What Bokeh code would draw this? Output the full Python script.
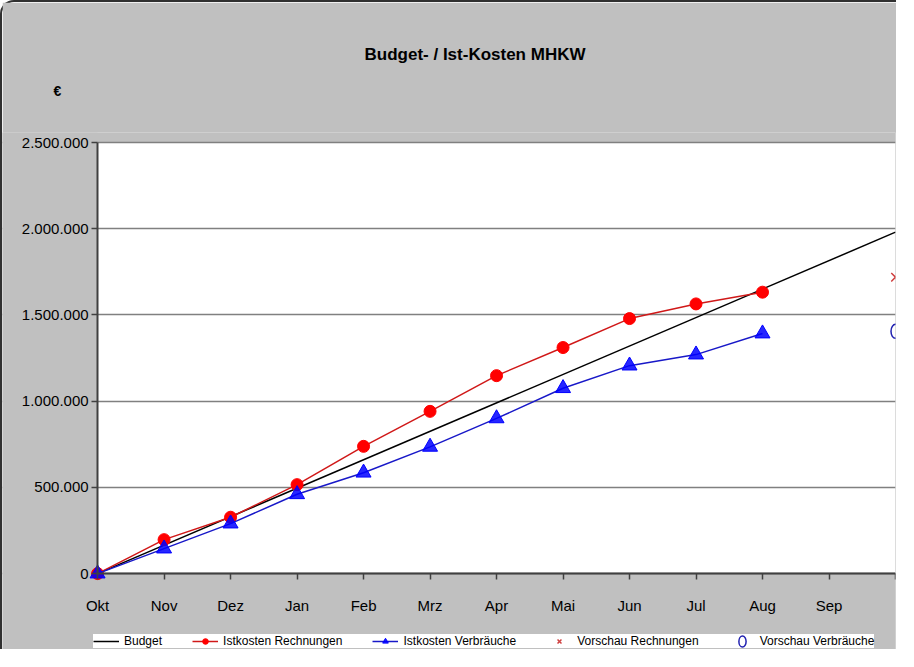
from bokeh.plotting import figure
from bokeh.models import FixedTicker, Legend, LegendItem, Title, BoxAnnotation
from bokeh.embed import file_html
from bokeh.resources import INLINE

# ---- data ----
months = ["Okt", "Nov", "Dez", "Jan", "Feb", "Mrz", "Apr", "Mai", "Jun", "Jul", "Aug", "Sep"]
budget_pos = [0, 12]                 # start (Okt) and end of the fiscal year
budget = [0, 1980000]
ist_rechnungen = [0, 197000, 327000, 516000, 738000, 941000, 1148000, 1311000, 1479000, 1564000, 1632000]
ist_verbraeuche = [0, 145000, 290000, 460000, 585000, 735000, 900000, 1075000, 1206000, 1270000, 1392000]
vorschau_pos = [12]
vorschau_rechnungen = [1719000]
vorschau_verbraeuche = [1405000]
y_ticks = [0, 500000, 1000000, 1500000, 2000000, 2500000]
y_tick_labels = ["0", "500.000", "1.000.000", "1.500.000", "2.000.000", "2.500.000"]

FONT = "Liberation Sans"
GRAY = "#c0c0c0"

# The frame covers the whole chart (grey); the plot area is a white box,
# and both axes sit at data 0 so that their labels are drawn inside the frame.
p = figure(width=896, height=649, output_backend="svg", toolbar_location=None,
           x_range=(-1.43, 12), y_range=(-440000, 2558000),
           background_fill_color=GRAY, border_fill_color=GRAY,
           min_border_left=0, min_border_right=3, min_border_top=130, min_border_bottom=2)
p.styles = {"border-left": "2px solid #303030", "border-top": "2px solid #303030",
            "border-top-left-radius": "14px"}
p.outline_line_color = None

# titles
p.add_layout(Title(text="€", align="left", offset=51, text_font=FONT, text_font_size="14px",
                   text_font_style="bold", text_color="black", standoff=67), "above")
main_title = Title(text="Budget- / Ist-Kosten MHKW", align="left", offset=362, text_font=FONT,
                   text_font_size="17px", text_font_style="bold", text_color="black", standoff=0)
try:
    main_title.standoff = -32
except Exception:
    main_title.standoff = 0
p.add_layout(main_title, "above")

# axes
xs_idx = list(range(len(months) + 1))
p.xaxis.ticker = FixedTicker(ticks=xs_idx)
overrides = {i: m for i, m in enumerate(months)}
overrides[len(months)] = ""
p.xaxis.major_label_overrides = overrides
p.xaxis.fixed_location = 0
p.xaxis.bounds = (xs_idx[0], xs_idx[-1])
p.yaxis.ticker = FixedTicker(ticks=y_ticks)
p.yaxis.major_label_overrides = {t: l for t, l in zip(y_ticks, y_tick_labels)}
p.yaxis.fixed_location = 0
p.yaxis.bounds = (y_ticks[0], y_ticks[-1])
for ax in (p.xaxis[0], p.yaxis[0]):
    ax.axis_line_color = "#404040"
    ax.axis_line_width = 2
    ax.major_tick_line_color = "#404040"
    ax.major_tick_line_width = 1.5
    ax.major_tick_in = 0
    ax.major_tick_out = 6
    ax.minor_tick_line_color = None
    ax.major_label_text_font = FONT
    ax.major_label_text_font_size = "15px"
    ax.major_label_text_color = "black"
p.xaxis.major_label_standoff = 17
p.yaxis.major_label_standoff = 3

p.xgrid.grid_line_color = None
p.ygrid.grid_line_color = "#808080"
p.ygrid.grid_line_width = 1.5

# white plot area below the grid, grey cover left of Okt above the grid
p.add_layout(BoxAnnotation(left=xs_idx[0], bottom=y_ticks[0], top=y_ticks[-1], fill_color="white",
                           fill_alpha=1, line_color=None, level="image"))
p.add_layout(BoxAnnotation(right=xs_idx[0], fill_color=GRAY, fill_alpha=1, line_color=None, level="underlay"))

# data glyphs
r_budget = p.line(budget_pos, budget, line_color="black", line_width=1.5)

xr = list(range(len(ist_rechnungen)))
r_rl = p.line(xr, ist_rechnungen, line_color="#d01818", line_width=1.5)
r_rm = p.scatter(xr, ist_rechnungen, marker="circle", size=12, fill_color="#ff0000", line_color="#ff0000")

xv = list(range(len(ist_verbraeuche)))
r_vl = p.line(xv, ist_verbraeuche, line_color="#1818c8", line_width=1.5)
r_vm = p.scatter(xv, ist_verbraeuche, marker="triangle", size=15, fill_color="#0000ff",
                 line_color="#0000ff", fill_alpha=0.85)

r_pr = p.scatter(vorschau_pos, vorschau_rechnungen, marker="x", size=12, line_color="#d04040", line_width=1.5)
r_pv = p.ellipse(vorschau_pos, vorschau_verbraeuche, width=9, height=14, width_units="screen",
                 height_units="screen", fill_color=None, line_color="#2020b0", line_width=1.5)

legend = Legend(items=[
    LegendItem(label="Budget", renderers=[r_budget]),
    LegendItem(label="Istkosten Rechnungen", renderers=[r_rl, r_rm]),
    LegendItem(label="Istkosten Verbräuche", renderers=[r_vl, r_vm]),
    LegendItem(label="Vorschau Rechnungen", renderers=[r_pr]),
    LegendItem(label="Vorschau Verbräuche", renderers=[r_pv]),
], orientation="horizontal", location=(91, 1))
legend.label_text_font = FONT
legend.label_text_font_size = "12px"
legend.label_text_color = "black"
legend.glyph_width = 26
legend.glyph_height = 14
legend.spacing = 30
legend.padding = 8
legend.margin = 0
legend.label_standoff = 5
legend.label_height = 14
legend.border_line_color = None
legend.background_fill_color = "white"
legend.background_fill_alpha = 1
p.add_layout(legend)

open("out.html", "w").write(file_html(p, INLINE))
